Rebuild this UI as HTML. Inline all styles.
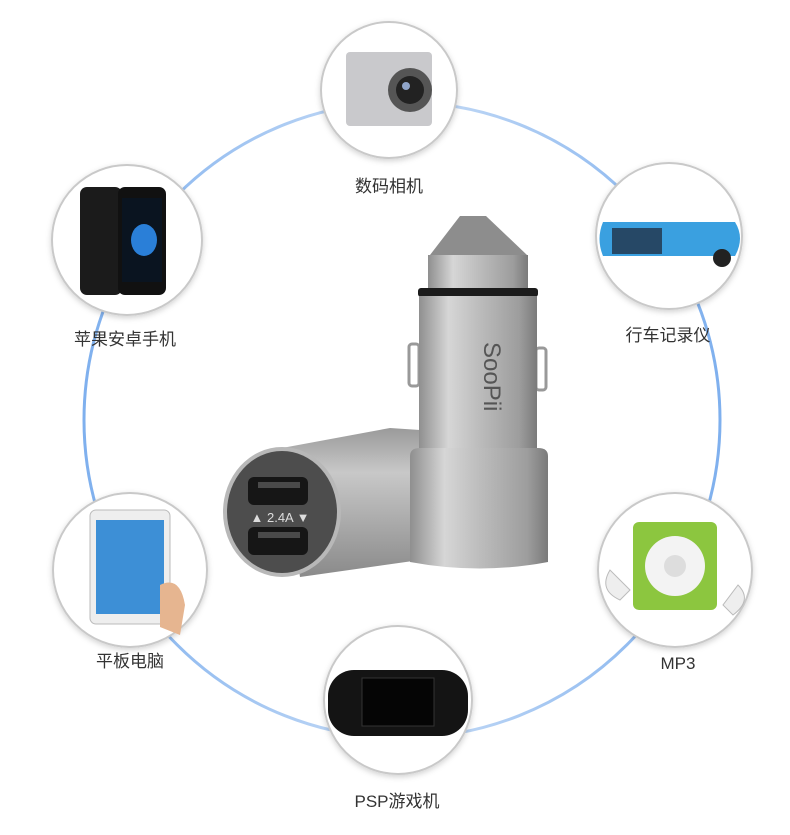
<!DOCTYPE html>
<html><head><meta charset="utf-8"><style>
body{margin:0;background:#fff;width:790px;height:830px;overflow:hidden;font-family:"Liberation Sans","Noto Sans CJK SC",sans-serif}
</style></head><body>
<svg width="790" height="830" viewBox="0 0 790 830" xmlns="http://www.w3.org/2000/svg">
<defs>
<linearGradient id="ring" x1="0" y1="0" x2="1" y2="0">
<stop offset="0" stop-color="#7fb0ee"/><stop offset="0.5" stop-color="#c7dcf6"/><stop offset="1" stop-color="#7fb0ee"/></linearGradient>
<linearGradient id="metal" x1="0" y1="0" x2="1" y2="0">
<stop offset="0" stop-color="#8f8f8f"/><stop offset="0.25" stop-color="#d6d6d6"/><stop offset="0.5" stop-color="#bdbdbd"/><stop offset="0.85" stop-color="#9d9d9d"/><stop offset="1" stop-color="#7a7a7a"/></linearGradient>
<linearGradient id="metalV" x1="0" y1="0" x2="0" y2="1">
<stop offset="0" stop-color="#9a9a9a"/><stop offset="0.3" stop-color="#c8c8c8"/><stop offset="1" stop-color="#8a8a8a"/></linearGradient>
<filter id="sh" x="-20%" y="-20%" width="140%" height="140%"><feDropShadow dx="0" dy="2" stdDeviation="3" flood-color="#000" flood-opacity="0.18"/></filter>
</defs>
<circle cx="402" cy="420" r="318" fill="none" stroke="url(#ring)" stroke-width="3"/>
<g fill="#fff" stroke="#c9c9c9" stroke-width="2" filter="url(#sh)">
<circle cx="389" cy="90" r="68"/>
<circle cx="127" cy="240" r="75"/>
<circle cx="669" cy="236" r="73"/>
<circle cx="130" cy="570" r="77"/>
<circle cx="675" cy="570" r="77"/>
<circle cx="398" cy="700" r="74"/>
</g>
<!-- camera -->
<rect x="346" y="52" width="86" height="74" rx="4" fill="#c9c9cc"/>
<circle cx="410" cy="90" r="22" fill="#555"/><circle cx="410" cy="90" r="14" fill="#222"/><circle cx="406" cy="86" r="4" fill="#8fa4c8"/>
<!-- phones -->
<rect x="80" y="187" width="42" height="108" rx="7" fill="#1b1b1b"/>
<rect x="118" y="187" width="48" height="108" rx="7" fill="#111"/>
<rect x="122" y="198" width="40" height="84" fill="#0a1420"/><ellipse cx="144" cy="240" rx="13" ry="16" fill="#2a7fd8"/>
<!-- dashcam mirror -->
<path d="M603 222 L735 222 Q745 238 735 256 L603 256 Q596 239 603 222Z" fill="#3aa0e0"/>
<rect x="612" y="228" width="50" height="26" fill="#264866"/>
<circle cx="722" cy="258" r="9" fill="#222"/>
<!-- tablet -->
<rect x="90" y="510" width="80" height="114" rx="6" fill="#eee" stroke="#bbb"/>
<rect x="96" y="520" width="68" height="94" fill="#3d8fd6"/>
<path d="M160 585 q20 -10 25 20 l-5 30 -20 -8z" fill="#e6b590"/>
<!-- mp3 -->
<rect x="633" y="522" width="84" height="88" rx="6" fill="#8cc63f"/>
<circle cx="675" cy="566" r="30" fill="#f3f3f3"/><circle cx="675" cy="566" r="11" fill="#ddd"/>
<path d="M610 570 q-12 20 10 30 l10 -10z" fill="#eee" stroke="#bbb"/>
<path d="M738 585 q15 15 -5 30 l-10 -10z" fill="#eee" stroke="#bbb"/>
<!-- psp -->
<rect x="328" y="670" width="140" height="66" rx="26" fill="#141414"/>
<rect x="362" y="678" width="72" height="48" fill="#050505" stroke="#333"/>
<!-- lying charger -->
<path d="M282 448 L390 428 L420 430 L420 560 L300 577 Z" fill="url(#metalV)"/>
<ellipse cx="282" cy="512" rx="59" ry="65" fill="#b8b8b8"/>
<ellipse cx="282" cy="512" rx="55" ry="61" fill="#4d4d4d"/>
<rect x="248" y="477" width="60" height="28" rx="6" fill="#161616"/>
<rect x="258" y="482" width="42" height="6" fill="#4a4a4a"/>
<rect x="248" y="527" width="60" height="28" rx="6" fill="#161616"/>
<rect x="258" y="532" width="42" height="6" fill="#4a4a4a"/>
<text x="280" y="522" font-size="13" fill="#ddd" text-anchor="middle">▲ 2.4A ▼</text>
<!-- standing charger -->
<path d="M460 216 L486 216 L527 255 L430 255 Z" fill="#8d8d8d"/>
<rect x="428" y="255" width="100" height="34" fill="url(#metal)"/>
<rect x="418" y="288" width="120" height="9" rx="3" fill="#1b1b1b"/>
<rect x="409" y="344" width="10" height="42" rx="3" fill="none" stroke="#999" stroke-width="3"/>
<rect x="536" y="348" width="10" height="42" rx="3" fill="none" stroke="#999" stroke-width="3"/>
<rect x="419" y="296" width="118" height="160" fill="url(#metal)"/>
<text x="484" y="342" font-size="24" fill="#555" transform="rotate(90 484 342)" font-family="Liberation Sans,sans-serif">SooPii</text>
<path d="M410 456 Q410 448 420 448 L538 448 Q548 448 548 456 L548 562 Q480 575 410 562Z" fill="url(#metal)"/>
<g font-size="17" fill="#333" text-anchor="middle">
<text x="389" y="192">数码相机</text>
<text x="125" y="345">苹果安卓手机</text>
<text x="668" y="341">行车记录仪</text>
<text x="130" y="667">平板电脑</text>
<text x="678" y="669">MP3</text>
<text x="397" y="807">PSP游戏机</text>
</g>
</svg>
</body></html>
